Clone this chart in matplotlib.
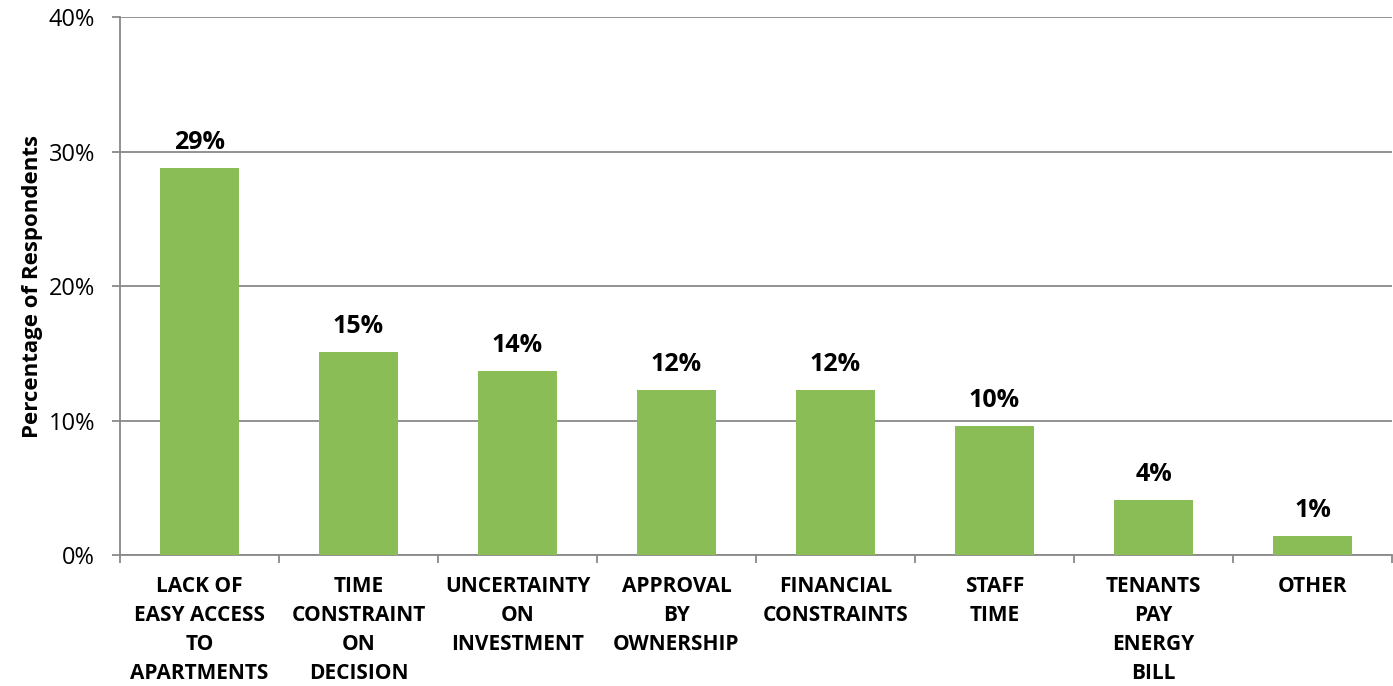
import matplotlib.pyplot as plt

# Survey results: barriers reported by respondents
categories = [
    "LACK OF\nEASY ACCESS\nTO\nAPARTMENTS",
    "TIME\nCONSTRAINT\nON\nDECISION",
    "UNCERTAINTY\nON\nINVESTMENT",
    "APPROVAL\nBY\nOWNERSHIP",
    "FINANCIAL\nCONSTRAINTS",
    "STAFF\nTIME",
    "TENANTS\nPAY\nENERGY\nBILL",
    "OTHER",
]
percent = [28.8, 15.1, 13.7, 12.3, 12.3, 9.6, 4.1, 1.4]
y_ticks = [0, 10, 20, 30, 40]

plt.rcParams['font.family'] = ['Open Sans', 'DejaVu Sans']

fig = plt.figure(figsize=(13.93, 6.86), dpi=100)
ax = fig.add_axes([0.0861, 0.191, 0.9132, 0.784])

x = range(len(categories))
bars = ax.bar(x, percent, width=0.5, color='#8BBD57', zorder=3)

for xi, v in zip(x, percent):
    ax.text(xi, v + 0.95, f"{v:.0f}%", ha='center', va='bottom',
            fontsize=18, fontweight='bold', color='black')

ax.set_xlim(-0.5, len(categories) - 0.5)
ax.set_ylim(0, 40)
ax.set_yticks(y_ticks)
ax.set_yticklabels([f"{t}%" for t in y_ticks], fontsize=17)
ax.yaxis.grid(True, color='#898989', linewidth=1.3, zorder=0)
ax.tick_params(axis='y', length=6, width=1.3, color='#898989', pad=12)

# category labels sit between boundary ticks
ax.set_xticks([i + 0.5 for i in range(-1, len(categories))], minor=False)
ax.set_xticklabels([])
ax.tick_params(axis='x', which='major', length=6, width=1.3, color='#898989')
ax.set_xticks(list(x), minor=True)
ax.set_xticklabels(categories, minor=True, fontsize=15, fontweight='bold',
                   linespacing=1.5, va='top')
ax.tick_params(axis='x', which='minor', length=0, pad=15)

for side in ['top', 'right']:
    ax.spines[side].set_visible(False)
for side in ['left', 'bottom']:
    ax.spines[side].set_color('#898989')
    ax.spines[side].set_linewidth(1.3)

ax.set_ylabel("Percentage of Respondents", fontsize=16, fontweight='bold',
              labelpad=4)

fig.savefig('out.png', dpi=100)
